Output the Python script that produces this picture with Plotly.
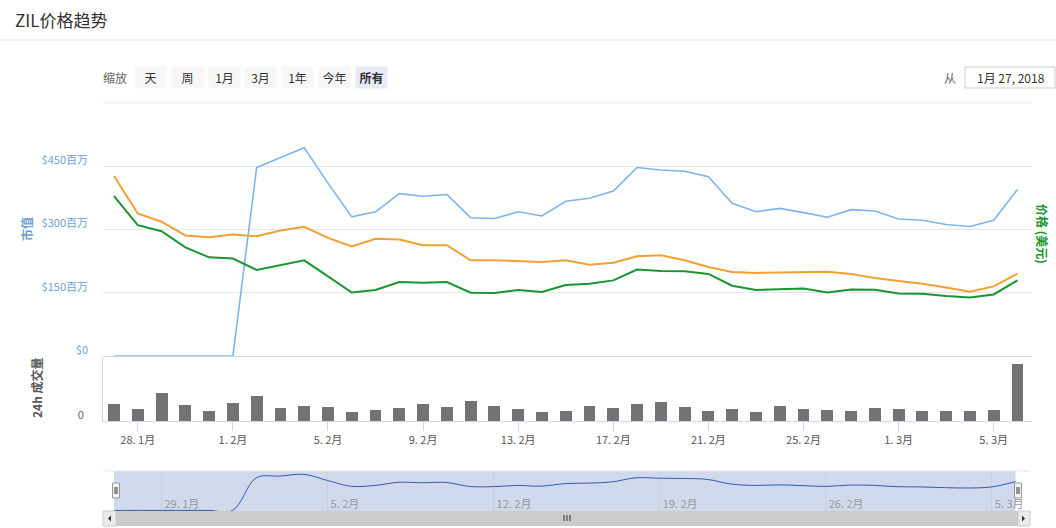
import pandas as pd
import plotly.graph_objects as go

# daily points, 27 Jan - 6 Mar 2018
dates = pd.date_range("2018-01-27", "2018-03-06", freq="D")

# market cap, millions USD
market_cap = [0, 0, 0, 0, 0, 0, 447, 470, 494, 410, 330, 342, 385, 379, 383,
              328, 326, 342, 332, 367, 374, 391, 447, 441, 438, 425, 362, 342,
              350, 340, 329, 347, 344, 325, 322, 312, 307, 322, 395]
# price, USD
price_usd = [0.177, 0.1448, 0.1381, 0.1203, 0.1092, 0.1078, 0.0952, 0.1003,
             0.1059, 0.0881, 0.0703, 0.0730, 0.0819, 0.0811, 0.0819, 0.0700,
             0.0697, 0.0730, 0.0708, 0.0786, 0.0800, 0.0837, 0.0956, 0.0941,
             0.0937, 0.0908, 0.0778, 0.0730, 0.0739, 0.0748, 0.0703, 0.0737,
             0.0733, 0.0692, 0.0689, 0.0663, 0.0648, 0.0681, 0.0837]
# price, satoshi
price_sat = [21.35, 16.9, 15.92, 14.29, 14.08, 14.40, 14.20, 14.88, 15.32,
             14.01, 12.98, 13.89, 13.81, 13.13, 13.13, 11.35, 11.35, 11.27,
             11.15, 11.35, 10.83, 11.07, 11.82, 11.94, 11.35, 10.56, 9.96,
             9.85, 9.92, 9.92, 10.0, 9.73, 9.25, 8.89, 8.57, 8.13, 7.62, 8.25,
             9.76]
# 24h volume, millions USD
volume = [25.5, 18, 42, 24, 15, 27, 37.5, 19.5, 22.5, 21, 13.5, 16.5, 19.5,
          25.5, 21, 30, 22.5, 18, 13.5, 15, 22.5, 19.5, 25.5, 28.5, 21, 15, 18,
          13.5, 22.5, 18, 16.5, 15, 19.5, 18, 15, 15, 15, 16.5, 85.5]

cap_ticks = [0, 150, 300, 450, 600]
cap_labels = ["$0", "$150百万", "$300百万", "$450百万", ""]
zoom_buttons = ["天", "周", "1月", "3月", "1年", "今年", "所有"]

W, H = 1056, 528
FONT = "Noto Sans CJK SC, sans-serif"


def px(x):
    return x / W


def py(y):
    return 1 - y / H


x_dom = [px(103), px(1032)]
x_range = ["2018-01-26 12:53", "2018-03-06 14:39"]

fig = go.Figure()

fig.add_trace(go.Scatter(x=dates, y=market_cap, mode="lines", name="市值",
                         line=dict(color="#7cb5ec", width=1.6), xaxis="x", yaxis="y"))
fig.add_trace(go.Scatter(x=dates, y=price_sat, mode="lines", name="价格 (聪)",
                         line=dict(color="#f2a033", width=2), xaxis="x", yaxis="y3"))
fig.add_trace(go.Scatter(x=dates, y=price_usd, mode="lines", name="价格 (美元)",
                         line=dict(color="#18962f", width=2), xaxis="x", yaxis="y2"))
fig.add_trace(go.Bar(x=dates, y=volume, name="24h 成交量", width=0.5 * 86400000,
                     marker=dict(color="#737373", line_width=0), xaxis="x2", yaxis="y4"))
# navigator
fig.add_trace(go.Scatter(x=dates, y=market_cap, mode="lines", showlegend=False,
                         line=dict(color="#335cad", width=1, shape="spline"),
                         xaxis="x3", yaxis="y5"))

fig.update_layout(
    width=W, height=H, autosize=False,
    margin=dict(l=0, r=0, t=0, b=0, autoexpand=False),
    paper_bgcolor="white", plot_bgcolor="white",
    font=dict(family=FONT, color="#666666", size=11),
    showlegend=False,
    bargap=0,
    xaxis=dict(domain=x_dom, anchor="y", type="date", range=x_range,
               showticklabels=False, showgrid=False, zeroline=False,
               showline=True, linecolor="#d8d8d8", automargin=False),
    yaxis=dict(domain=[py(356), py(103)], range=[0, 600], tickvals=cap_ticks,
               ticktext=cap_labels, gridcolor="#e6e6e6", zeroline=False,
               tickfont=dict(color="#6f9fd0", size=11), ticks="",
               ticklabelshift=-6, ticklabelstandoff=14, automargin=False),
    yaxis2=dict(overlaying="y", side="right", range=[0, 0.28], visible=False),
    yaxis3=dict(overlaying="y", side="right", range=[0, 30], visible=False),
    xaxis2=dict(domain=x_dom, anchor="y4", type="date", range=x_range,
                tick0="2018-01-28", dtick=4 * 86400000, tickformat="%-d. %-m月",
                ticks="outside", ticklen=9, tickcolor="#ccd6eb",
                showline=True, linecolor="#ccd6eb", showgrid=False,
                tickfont=dict(color="#555555", size=11), automargin=False),
    yaxis4=dict(domain=[py(421), py(358)], range=[0, 94.5], tickvals=[0],
                ticktext=["0"], showgrid=False, zeroline=False, showline=True,
                linecolor="#ccd6eb", ticks="", ticklabelshift=-6,
                ticklabelstandoff=16, tickfont=dict(color="#666666", size=11),
                automargin=False),
    xaxis3=dict(domain=[px(103), px(1030)], anchor="free", position=py(516),
                type="date", range=x_range,
                tick0="2018-01-29", dtick=7 * 86400000, tickformat="%-d. %-m月",
                ticks="", ticklabelposition="inside right", ticklabelshift=3,
                showgrid=True, gridcolor="#c8d0e0", showline=False, zeroline=False,
                tickfont=dict(color="#999999", size=11), automargin=False),
    yaxis5=dict(domain=[py(511), py(471)], anchor="x3", range=[-8, 540], visible=False),
)

shapes = [
    # header divider
    dict(type="line", xref="paper", yref="paper", x0=0, x1=1, y0=py(40), y1=py(40),
         line=dict(color="#e6e6e6", width=1)),
    # top grid line of the price pane
    dict(type="line", xref="x domain", yref="y domain", x0=0, x1=1, y0=1, y1=1,
         line=dict(color="#e6e6e6", width=1)),
    # date input box
    dict(type="rect", xref="paper", yref="paper", x0=px(965), x1=px(1055),
         y0=py(88), y1=py(67), line=dict(color="#cccccc", width=1)),
    # navigator top outline
    dict(type="line", xref="paper", yref="paper", x0=px(103), x1=px(1030),
         y0=py(471), y1=py(471), line=dict(color="#e6e6e6", width=1)),
    # navigator selection mask
    dict(type="rect", xref="x3", yref="y5 domain", x0=dates[0], x1=dates[-1],
         y0=0, y1=1, fillcolor="rgba(102,133,194,0.3)", line_width=0, layer="below"),
    # scrollbar track, bar and buttons
    dict(type="rect", xref="paper", yref="paper", x0=px(103), x1=px(1030),
         y0=py(526), y1=py(511), fillcolor="#f2f2f2", line_width=0),
    dict(type="rect", xref="paper", yref="paper", x0=px(116), x1=px(1018),
         y0=py(526), y1=py(511), fillcolor="#cccccc", line_width=0),
    dict(type="rect", xref="paper", yref="paper", x0=px(103), x1=px(116),
         y0=py(526), y1=py(511), fillcolor="#ebebeb", line=dict(color="#cccccc", width=1)),
    dict(type="rect", xref="paper", yref="paper", x0=px(1018), x1=px(1030),
         y0=py(526), y1=py(511), fillcolor="#ebebeb", line=dict(color="#cccccc", width=1)),
    dict(type="path", xref="paper", yref="paper",
         path=f"M {px(111)},{py(515.5)} L {px(111)},{py(521.5)} L {px(108)},{py(518.5)} Z",
         fillcolor="#333333", line_width=0),
    dict(type="path", xref="paper", yref="paper",
         path=f"M {px(1022)},{py(515.5)} L {px(1022)},{py(521.5)} L {px(1025)},{py(518.5)} Z",
         fillcolor="#333333", line_width=0),
]
# scrollbar grip
for gx in (564, 567, 570):
    shapes.append(dict(type="line", xref="paper", yref="paper", x0=px(gx), x1=px(gx),
                       y0=py(521), y1=py(515), line=dict(color="#333333", width=1)))
# navigator handles
for hx in (116, 1018):
    shapes.append(dict(type="rect", xref="paper", yref="paper", x0=px(hx - 3.5),
                       x1=px(hx + 3.5), y0=py(498), y1=py(483), fillcolor="#f2f2f2",
                       line=dict(color="#999999", width=1)))
    for lx in (hx - 1, hx + 1):
        shapes.append(dict(type="line", xref="paper", yref="paper", x0=px(lx), x1=px(lx),
                           y0=py(494), y1=py(487), line=dict(color="#333333", width=1)))

annotations = [
    dict(text="ZIL价格趋势", x=px(13), y=py(19), xanchor="left",
         font=dict(size=17, color="#333333")),
    dict(text="缩放", x=px(115), y=py(77), font=dict(size=12, color="#666666")),
    dict(text="从", x=px(950), y=py(77), font=dict(size=12, color="#666666")),
    dict(text="1月 27, 2018", x=px(1011), y=py(77), font=dict(size=12, color="#333333")),
    dict(text="<b>市值</b>", x=px(26), y=py(229), textangle=-90,
         font=dict(size=12, color="#6f9fd0")),
    dict(text="<b>价格 (美元)</b>", x=px(1042), y=py(234), textangle=90,
         font=dict(size=12, color="#18962f")),
    dict(text="<b>24h 成交量</b>", x=px(36), y=py(388), textangle=-90,
         font=dict(size=12, color="#555555")),
]
for i, label in enumerate(zoom_buttons):
    active = label == "所有"
    annotations.append(dict(
        text=f"<b>{label}</b>" if active else label,
        x=px(150.5 + i * 36.8), y=py(77.5), width=31, height=21, borderpad=0,
        bgcolor="#e6ebf5" if active else "#f7f7f7",
        font=dict(size=12, color="#333333")))

for a in annotations:
    a.setdefault("xref", "paper")
    a.setdefault("yref", "paper")
    a.setdefault("xanchor", "center")
    a.setdefault("yanchor", "middle")
    a.setdefault("showarrow", False)

fig.update_layout(shapes=shapes, annotations=annotations)

# pin the graph div to the page corner so stray whitespace does not grow the page
page_fix = (
    "document.body.style.margin='0';"
    "var g=document.getElementById('{plot_id}');"
    "g.style.position='fixed';g.style.left='0';g.style.top='0';"
)
fig.write_html("out.html", config={"displayModeBar": False}, post_script=page_fix)
